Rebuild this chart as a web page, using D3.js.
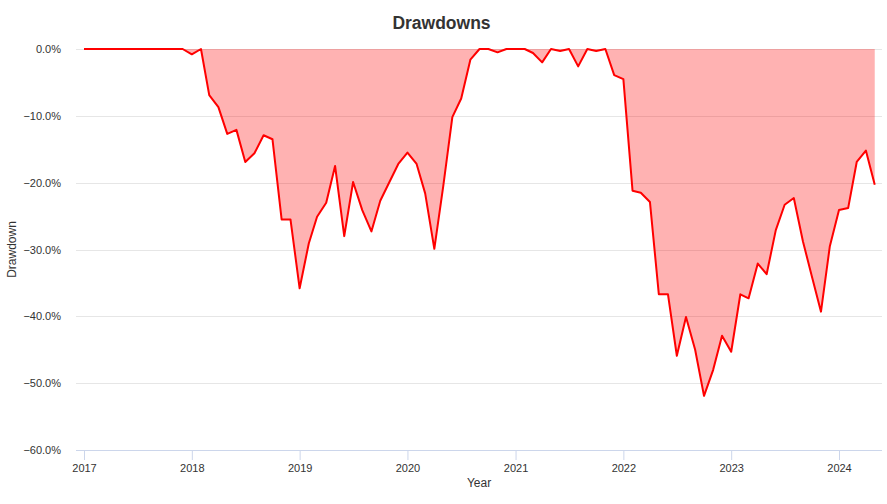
<!DOCTYPE html>
<html>
<head>
<meta charset="utf-8">
<script src="https://cdn.jsdelivr.net/npm/d3@7"></script>
<style>
  html, body { margin: 0; padding: 0; background: #ffffff; }
  svg { display: block; font-family: "Liberation Sans", Arial, Helvetica, sans-serif; }
</style>
</head>
<body>
<svg id="chart" width="887" height="504"></svg>
<script>
// ---- Data (monthly, starting 2017-01) ----
const startYear = 2017;
const startMonth = 0; // January
const drawdownValues = [
  0, 0, 0, 0, 0, 0, 0, 0, 0, 0, 0, 0,              // 2017
  -0.8, 0, -6.9, -8.7, -12.7, -12.1, -16.9, -15.6, -12.9, -13.5, -25.5, -25.5, // 2018
  -35.8, -29.1, -25.1, -23.0, -17.5, -28.0, -19.9, -24.1, -27.3, -22.7, -19.9, -17.2, // 2019
  -15.5, -17.2, -21.6, -29.9, -20.6, -10.2, -7.4, -1.6, 0, 0, -0.5, 0, // 2020
  0, 0, -0.6, -2.0, 0, -0.3, 0, -2.6, 0, -0.3, 0, -3.9, // 2021
  -4.5, -21.2, -21.5, -22.9, -36.7, -36.7, -45.9, -40.1, -45.0, -51.9, -48.0, -42.9, // 2022
  -45.3, -36.7, -37.3, -32.1, -33.7, -27.1, -23.3, -22.3, -28.8, -34.0, -39.3, -29.5, // 2023
  -24.1, -23.8, -16.9, -15.2, -20.3                // 2024
];
const yTickValues = [0, -10, -20, -30, -40, -50, -60];
const xTickYears = [2017, 2018, 2019, 2020, 2021, 2022, 2023, 2024];
const titleText = "Drawdowns";
const xTitle = "Year";
const yTitle = "Drawdown";

const data = drawdownValues.map((v, i) => ({
  date: new Date(startYear, startMonth + i, 1),
  value: v
}));

// ---- Layout ----
const W = 887, H = 504;
const plot = { left: 76, right: 882, top: 49, bottom: 450 };
const svg = d3.select("#chart");

// x: 2017-01-01 at 84px, 2024-01-01 at 839px
const x = d3.scaleTime()
  .domain([new Date(2017, 0, 1), new Date(2024, 0, 1)])
  .range([84, 839]);
const y = d3.scaleLinear()
  .domain([-60, 0])
  .range([plot.bottom, plot.top]);

// Title
svg.append("text")
  .attr("x", 441.5).attr("y", 29)
  .attr("text-anchor", "middle")
  .attr("font-size", 17.5).attr("font-weight", "bold")
  .attr("fill", "#333333")
  .text(titleText);

// Gridlines
const grid = svg.append("g");
grid.selectAll("line")
  .data(yTickValues.filter(d => d !== -60))
  .join("line")
  .attr("x1", plot.left).attr("x2", plot.right)
  .attr("y1", d => Math.round(y(d)) + 0.5).attr("y2", d => Math.round(y(d)) + 0.5)
  .attr("stroke", "#e6e6e6").attr("stroke-width", 1);

// Clip
svg.append("clipPath").attr("id", "clip")
  .append("rect")
  .attr("x", plot.left).attr("y", plot.top - 5)
  .attr("width", plot.right - plot.left).attr("height", plot.bottom - plot.top + 10);

// Area
const area = d3.area()
  .x(d => x(d.date))
  .y0(y(0))
  .y1(d => y(d.value));
svg.append("path")
  .datum(data)
  .attr("clip-path", "url(#clip)")
  .attr("d", area)
  .attr("fill", "rgba(255,0,0,0.3)");

// Line
const line = d3.line()
  .x(d => x(d.date))
  .y(d => y(d.value));
svg.append("path")
  .datum(data)
  .attr("clip-path", "url(#clip)")
  .attr("d", line)
  .attr("fill", "none")
  .attr("stroke", "#ff0000")
  .attr("stroke-width", 2)
  .attr("stroke-linejoin", "round");

// Y axis labels
const yAxis = d3.axisLeft(y)
  .tickValues(yTickValues)
  .tickSize(0)
  .tickPadding(0)
  .tickFormat(d => d3.format(".1f")(d) + "%");
const yg = svg.append("g")
  .attr("transform", `translate(${plot.left - 15},0)`)
  .call(yAxis);
yg.select(".domain").remove();
yg.selectAll("text")
  .attr("font-size", 11)
  .attr("font-family", "Liberation Sans, Arial, sans-serif")
  .attr("fill", "#333333");

// X axis
const xAxis = d3.axisBottom(x)
  .tickValues(xTickYears.map(yr => new Date(yr, 0, 1)))
  .tickSize(10)
  .tickPadding(4)
  .tickFormat(d3.timeFormat("%Y"));
const xg = svg.append("g")
  .attr("transform", `translate(0,${plot.bottom})`)
  .call(xAxis);
xg.select(".domain").remove();
xg.selectAll(".tick line").attr("stroke", "#ccd6eb");
xg.selectAll("text")
  .attr("font-size", 11)
  .attr("font-family", "Liberation Sans, Arial, sans-serif")
  .attr("fill", "#333333");
svg.append("line")
  .attr("x1", plot.left).attr("x2", plot.right)
  .attr("y1", plot.bottom + 0.5).attr("y2", plot.bottom + 0.5)
  .attr("stroke", "#ccd6eb").attr("stroke-width", 1);

// Axis titles
svg.append("text")
  .attr("x", (plot.left + plot.right) / 2).attr("y", 487)
  .attr("text-anchor", "middle")
  .attr("font-size", 12).attr("fill", "#333333")
  .text(xTitle);
svg.append("text")
  .attr("transform", `translate(16,${(plot.top + plot.bottom) / 2}) rotate(-90)`)
  .attr("text-anchor", "middle")
  .attr("font-size", 12).attr("fill", "#333333")
  .text(yTitle);
</script>
</body>
</html>
